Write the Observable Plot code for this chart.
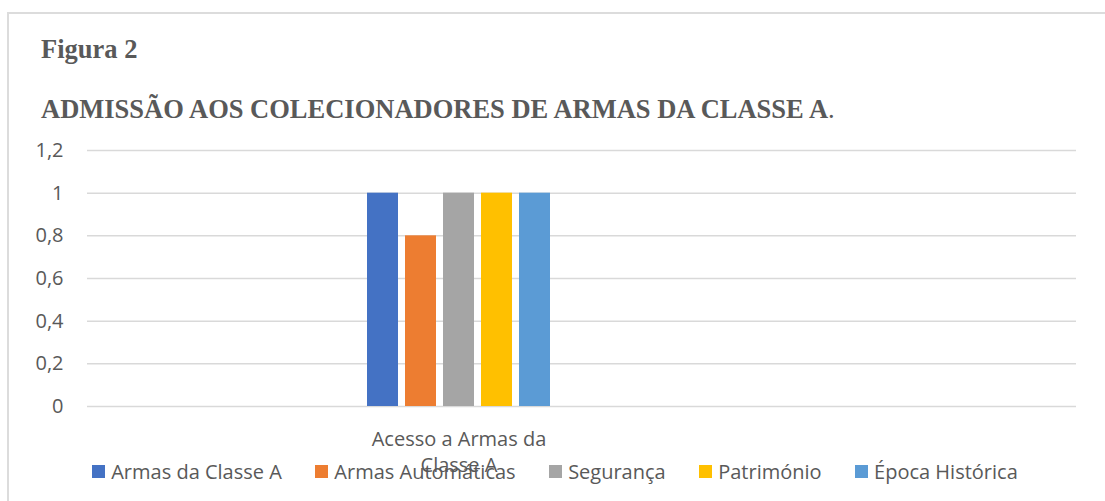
<!DOCTYPE html>
<html>
<head>
<meta charset="utf-8">
<script src="https://cdn.jsdelivr.net/npm/d3@7"></script>
<script src="https://cdn.jsdelivr.net/npm/@observablehq/plot@0.6"></script>
<style>
  html, body { margin: 0; padding: 0; background: #fff; overflow: hidden; }
  #page { position: relative; width: 1105px; height: 501px; overflow: hidden; }
  #frame { position: absolute; left: 7px; top: 12px; width: 1200px; height: 600px; border: 2px solid #dcdcdc; box-sizing: border-box; }
  .ttl { position: absolute; left: 41px; font-family: "Liberation Serif", "Times New Roman", serif; font-weight: bold; font-size: 26.5px; line-height: 26.5px; color: #595959; white-space: nowrap; }
  .ttl .np { font-weight: normal; }
  #chart { position: absolute; left: 0; top: 0; }
  #legend { position: absolute; left: 0; top: 460px; width: 1110px; height: 22px; display: flex; justify-content: center; align-items: center; font-family: "Open Sans", sans-serif; font-size: 20px; color: #595959; white-space: nowrap; }
  .li { display: flex; align-items: center; margin: 0 16.75px; }
  .sw { width: 13px; height: 13px; margin-right: 6px; }
</style>
</head>
<body>
<div id="page">
  <div id="frame"></div>
  <div class="ttl" style="top:36px">Figura 2</div>
  <div class="ttl" style="top:96px">ADMISSÃO AOS COLECIONADORES DE ARMAS DA CLASSE A<span class="np">.</span></div>
  <div id="chart"></div>
  <div id="legend"></div>
</div>
<script>
const series = ["Armas da Classe A", "Armas Automáticas", "Segurança", "Património", "Época Histórica"];
const values = [1, 0.8, 1, 1, 1];
const colors = ["#4472C4", "#ED7D31", "#A5A5A5", "#FFC000", "#5B9BD5"];
const category = "Acesso a Armas da Classe A";
const categoryLines = ["Acesso a Armas da", "Classe A"];
const yTicks = [0, 0.2, 0.4, 0.6, 0.8, 1, 1.2];
const yTickLabels = ["0", "0,2", "0,4", "0,6", "0,8", "1", "1,2"];

const data = series.map((s, i) => ({series: s, value: values[i], category}));

const chart = Plot.plot({
  width: 1105,
  height: 501,
  marginTop: 150,
  marginBottom: 95,
  marginLeft: 87,
  marginRight: 29,
  style: {fontFamily: "'Open Sans', sans-serif", fontSize: "20px", color: "#595959", background: "transparent", overflow: "visible"},
  x: {type: "band", domain: series, range: [363.5, 553.5], paddingInner: 0.184, paddingOuter: 0.092, axis: null},
  y: {domain: [0, 1.2], axis: null},
  color: {domain: series, range: colors},
  marks: [
    Plot.ruleY(yTicks, {stroke: "#d9d9d9", strokeWidth: 1.5}),
    Plot.barY(data, {x: "series", y: "value", fill: "series"}),
    Plot.axisY({ticks: yTicks, label: null, tickSize: 0, tickPadding: 24, tickFormat: (d) => yTickLabels[yTicks.indexOf(d)], fontSize: 20}),
    Plot.text([category], {x: () => series[2], frameAnchor: "bottom", text: () => categoryLines.join("\n"), lineAnchor: "top", dy: 21, lineHeight: 1.3, fontSize: 20, fill: "#595959"})
  ]
});
document.getElementById("chart").appendChild(chart);

const legend = document.getElementById("legend");
series.forEach((s, i) => {
  const item = document.createElement("div");
  item.className = "li";
  const sw = document.createElement("span");
  sw.className = "sw";
  sw.style.background = colors[i];
  const lab = document.createElement("span");
  lab.textContent = s;
  item.appendChild(sw);
  item.appendChild(lab);
  legend.appendChild(item);
});
</script>
</body>
</html>
